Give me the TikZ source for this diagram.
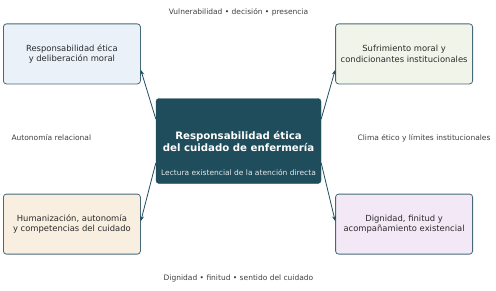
\documentclass[tikz,border=0pt]{standalone}
\usepackage{fontspec}
\setmainfont{DejaVu Sans}
\usetikzlibrary{arrows.meta, positioning}

\definecolor{coreblue}{HTML}{1F4D5C}
\definecolor{edgegray}{HTML}{46697A}
\definecolor{inkgray}{HTML}{2B2B2B}
\definecolor{fillblue}{HTML}{EAF1F8}
\definecolor{fillgreen}{HTML}{F1F5E9}
\definecolor{fillcream}{HTML}{F8EFE1}
\definecolor{filllilac}{HTML}{F3E8F6}

\begin{document}
\begin{tikzpicture}[
        >={Stealth[length=1.8mm, width=1.4mm]},
        core/.style={draw=coreblue, fill=coreblue, rounded corners=3pt, align=center, text=white,
            minimum width=165pt, minimum height=85pt, inner sep=2pt, font=\fontsize{10.2}{12}\selectfont\bfseries},
        sub/.style={text=white!88!coreblue, font=\fontsize{7.5}{9}\selectfont},
        box/.style={draw=edgegray, line width=0.8pt, rounded corners=3pt, align=center, text=inkgray,
            minimum width=137pt, minimum height=60pt, inner sep=2pt, font=\fontsize{8.4}{10.2}\selectfont},
        lbl/.style={text=inkgray!90, font=\fontsize{7.5}{9}\selectfont},
        link/.style={->, draw=coreblue, line width=0.8pt}
    ]
        \useasboundingbox (0,0) rectangle (496pt,290pt);
        %=================== centro ===================
        \node[core] (core) at (238.5pt,149pt) {Responsabilidad ética\\del cuidado de enfermería};
        \node[sub, above=5pt of core.south] (coresub) {Lectura existencial de la atención directa};

        %=================== cajas ===================
        \node[box, fill=fillblue, above left=14pt and 15pt of core] (ethic)
            {Responsabilidad ética\\y deliberación moral};
        \node[box, fill=fillgreen, above right=14pt and 14pt of core] (suffer)
            {Sufrimiento moral y\\condicionantes institucionales};
        \node[box, fill=fillcream, below left=10pt and 15pt of core] (human)
            {Humanización, autonomía\\y competencias del cuidado};
        \node[box, fill=filllilac, below right=10pt and 14pt of core] (dignity)
            {Dignidad, finitud y\\acompañamiento existencial};

        % conectores
        \draw[link] ([yshift=22pt]core.west) -- ([yshift=-16pt]ethic.east);
        \draw[link] ([yshift=22pt]core.east) -- ([yshift=-16pt]suffer.west);
        \draw[link] ([yshift=-22pt]core.west) -- ([yshift=3pt]human.east);
        \draw[link] ([yshift=-22pt]core.east) -- ([yshift=3pt]dignity.west);

        %=================== rótulos ===================
        \node[lbl] (toplbl) at (238.5pt,278pt) {Vulnerabilidad • decisión • presencia};
        \node[lbl] (botlbl) at (238.5pt,12pt) {Dignidad • finitud • sentido del cuidado};
        \node[lbl, anchor=west] (leftlbl) at (8pt,152pt) {Autonomía relacional};
        \node[lbl, anchor=east] (rightlbl) at (494pt,152pt) {Clima ético y límites institucionales};
    \end{tikzpicture}
\end{document}
